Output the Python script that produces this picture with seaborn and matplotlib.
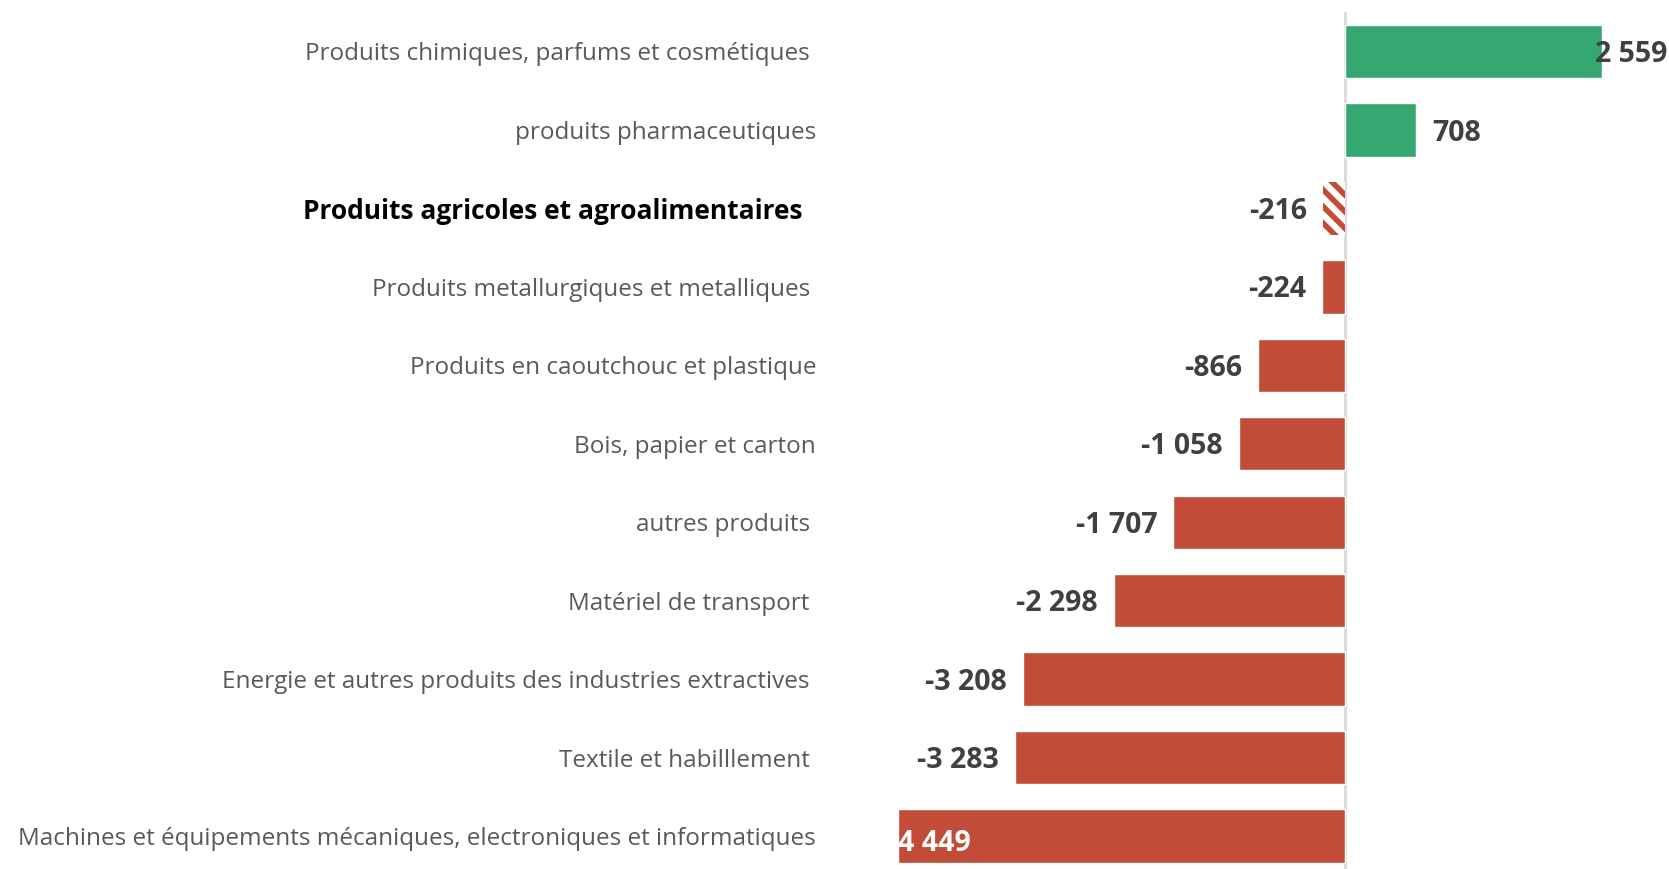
import seaborn as sns
import matplotlib.pyplot as plt
import pandas as pd

categories = [
    "Produits chimiques, parfums et cosmétiques ",
    "produits pharmaceutiques",
    "Produits agricoles et agroalimentaires  ",
    "Produits metallurgiques et metalliques ",
    "Produits en caoutchouc et plastique",
    "Bois, papier et carton",
    "autres produits ",
    "Matériel de transport ",
    "Energie et autres produits des industries extractives ",
    "Textile et habilllement ",
    "Machines et équipements mécaniques, electroniques et informatiques",
]
values = [2559, 708, -216, -224, -866, -1058, -1707, -2298, -3208, -3283, -4449]
value_labels = ["2 559", "708", "-216", "-224", "-866", "-1 058", "-1 707",
                "-2 298", "-3 208", "-3 283", "4 449"]

green = "#34A870"
red = "#C24C38"
colors = [green if v > 0 else red for v in values]

df = pd.DataFrame({"cat": categories, "val": values})

sns.set_style("white")
plt.rcParams["font.family"] = ["Open Sans", "DejaVu Sans"]
plt.rcParams["hatch.linewidth"] = 4

fig = plt.figure(figsize=(16.69, 8.69), dpi=100)
ax = fig.add_axes([880 / 1669, 0, 1 - 880 / 1669, 1 - 12 / 869])

sns.barplot(data=df, y="cat", x="val", hue="cat", palette=colors,
            legend=False, width=0.68, orient="h", ax=ax, saturation=1)

# hatched bar for the highlighted category
hatched = ax.patches[2]
hatched.set_facecolor("white")
hatched.set_edgecolor(red)
hatched.set_hatch("\\\\")
hatched.set_linewidth(0)

ax.set_xlim(-4628, 3227)
ax.set_ylim(10.42, -0.503)
ax.axvline(0, color="#d9d9d9", lw=2, zorder=0)

for s in ax.spines.values():
    s.set_visible(False)
ax.set_xticks([])
ax.set_xlabel("")
ax.set_ylabel("")
ax.tick_params(axis="y", length=0, pad=46, labelsize=17.5, labelcolor="#595959")
for i, t in enumerate(ax.get_yticklabels()):
    if i == 2:
        t.set_fontweight("bold")
        t.set_color("black")
        t.set_fontsize(19)

pad = 160
fs = 20.5
dy = 0.04
xmax = ax.get_xlim()[1]
for i, (v, lab) in enumerate(zip(values, value_labels)):
    if i == len(values) - 1:
        ax.text(v, i + 0.1, lab, ha="left", va="center", fontsize=fs,
                fontweight="bold", color="white")
    elif v > 0:
        if v + pad + 700 > xmax:
            ax.text(xmax - 20, i + dy, lab, ha="right", va="center", fontsize=fs,
                    fontweight="bold", color="#404040")
        else:
            ax.text(v + pad, i + dy, lab, ha="left", va="center", fontsize=fs,
                    fontweight="bold", color="#404040")
    else:
        ax.text(v - pad, i + dy, lab, ha="right", va="center", fontsize=fs,
                fontweight="bold", color="#404040")

fig.savefig("out.png", dpi=100)
